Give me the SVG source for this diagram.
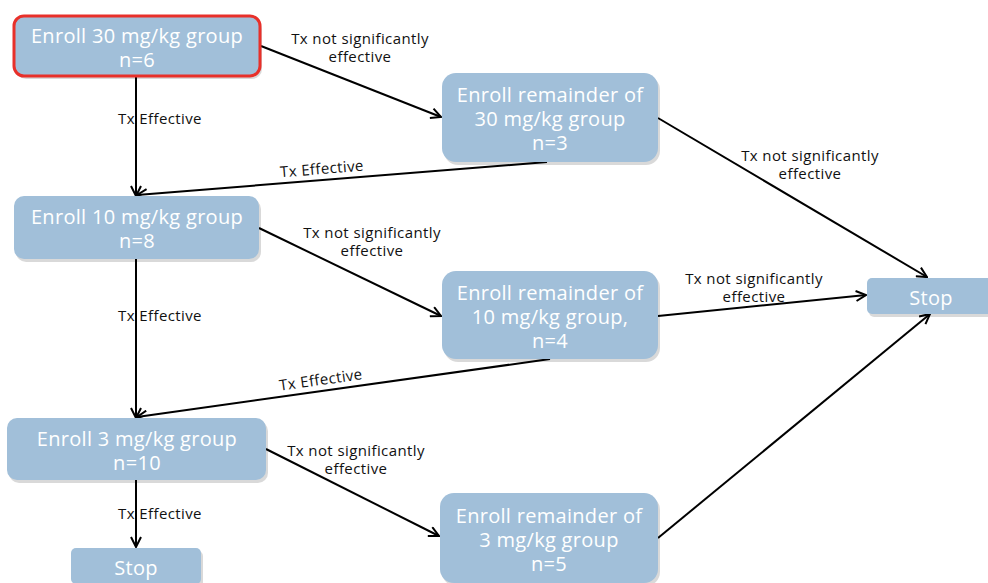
<svg xmlns="http://www.w3.org/2000/svg" width="988" height="583" viewBox="0 0 988 583">
<style>
.box{fill:#a1bfd9;}
.sh{fill:#000;opacity:0.15;}
.nt{font-family:"Open Sans",Lato,sans-serif;font-size:20px;letter-spacing:0.3px;fill:#fff;text-anchor:middle;}
.lb{font-family:"Open Sans",Lato,sans-serif;font-size:15px;letter-spacing:0.4px;fill:#111;text-anchor:middle;}
.c{stroke:#000;stroke-width:2;fill:none;marker-end:url(#ah);}
</style>
<defs>
<marker id="ah" viewBox="0 0 12 12" refX="11" refY="6" markerWidth="12" markerHeight="12" markerUnits="userSpaceOnUse" orient="auto">
<path d="M1,1 L11,6 L1,11" fill="none" stroke="#000" stroke-width="2"/>
</marker>
</defs>
<rect width="988" height="583" fill="#fff"/>
<g id="connectors">
<line class="c" x1="136" y1="76" x2="136" y2="196"/>
<line class="c" x1="261" y1="46" x2="441" y2="117"/>
<line class="c" x1="547" y1="162" x2="137" y2="195"/>
<line class="c" x1="658" y1="118" x2="927" y2="277"/>
<line class="c" x1="259" y1="228" x2="441" y2="316"/>
<line class="c" x1="136" y1="259" x2="136" y2="418"/>
<line class="c" x1="550" y1="359" x2="137" y2="417"/>
<line class="c" x1="658" y1="316" x2="866" y2="295"/>
<line class="c" x1="266" y1="449" x2="439" y2="536"/>
<line class="c" x1="136" y1="480" x2="136" y2="547"/>
<line class="c" x1="658" y1="538" x2="930" y2="314"/>
<text class="lb" x="160" y="124">Tx Effective</text>
<text class="lb"><tspan x="360" y="44">Tx not significantly</tspan><tspan x="360" y="62">effective</tspan></text>
<text class="lb" x="322" y="174" transform="rotate(-4.6 322 170)">Tx Effective</text>
<text class="lb"><tspan x="810" y="161">Tx not significantly</tspan><tspan x="810" y="179">effective</tspan></text>
<text class="lb"><tspan x="372" y="238">Tx not significantly</tspan><tspan x="372" y="256">effective</tspan></text>
<text class="lb" x="160" y="321">Tx Effective</text>
<text class="lb" x="321" y="385" transform="rotate(-8 321 381)">Tx Effective</text>
<text class="lb"><tspan x="754" y="284">Tx not significantly</tspan><tspan x="754" y="302">effective</tspan></text>
<text class="lb"><tspan x="356" y="456">Tx not significantly</tspan><tspan x="356" y="474">effective</tspan></text>
<text class="lb" x="160" y="519">Tx Effective</text>
</g>
<g id="n1">
<rect class="sh" x="16" y="19" width="246" height="60" rx="10"/>
<rect x="14" y="16" width="246" height="60" rx="10" fill="#a1bfd9" stroke="#e8302a" stroke-width="3"/>
<text class="nt"><tspan x="137" y="43">Enroll 30 mg/kg group</tspan><tspan x="137" y="67">n=6</tspan></text>
</g>
<g id="n2">
<rect class="sh" x="444" y="76" width="216" height="89" rx="14"/>
<rect class="box" x="442" y="73" width="216" height="89" rx="14"/>
<text class="nt"><tspan x="550" y="102">Enroll remainder of</tspan><tspan x="550" y="126">30 mg/kg group</tspan><tspan x="550" y="150">n=3</tspan></text>
</g>
<g id="n3">
<rect class="sh" x="16" y="199" width="245" height="63" rx="10"/>
<rect class="box" x="14" y="196" width="245" height="63" rx="10"/>
<text class="nt"><tspan x="137" y="224">Enroll 10 mg/kg group</tspan><tspan x="137" y="248">n=8</tspan></text>
</g>
<g id="n4">
<rect class="sh" x="444" y="274" width="216" height="88" rx="14"/>
<rect class="box" x="442" y="271" width="216" height="88" rx="14"/>
<text class="nt"><tspan x="550" y="300">Enroll remainder of</tspan><tspan x="550" y="324">10 mg/kg group,</tspan><tspan x="550" y="348">n=4</tspan></text>
</g>
<g id="n5">
<rect class="sh" x="9" y="421" width="259" height="62" rx="10"/>
<rect class="box" x="7" y="418" width="259" height="62" rx="10"/>
<text class="nt"><tspan x="137" y="446">Enroll 3 mg/kg group</tspan><tspan x="137" y="470">n=10</tspan></text>
</g>
<g id="n6">
<rect class="sh" x="442" y="496" width="218" height="90" rx="14"/>
<rect class="box" x="440" y="493" width="218" height="90" rx="14"/>
<text class="nt"><tspan x="549" y="523">Enroll remainder of</tspan><tspan x="549" y="547">3 mg/kg group</tspan><tspan x="549" y="571">n=5</tspan></text>
</g>
<g id="n7">
<rect class="sh" x="869" y="281" width="125" height="36" rx="5"/>
<rect class="box" x="867" y="278" width="125" height="36" rx="5"/>
<text class="nt" x="931" y="305">Stop</text>
</g>
<g id="n8">
<rect class="sh" x="73" y="551" width="130" height="36" rx="5"/>
<rect class="box" x="71" y="548" width="130" height="36" rx="5"/>
<text class="nt" x="136" y="575">Stop</text>
</g>
</svg>
